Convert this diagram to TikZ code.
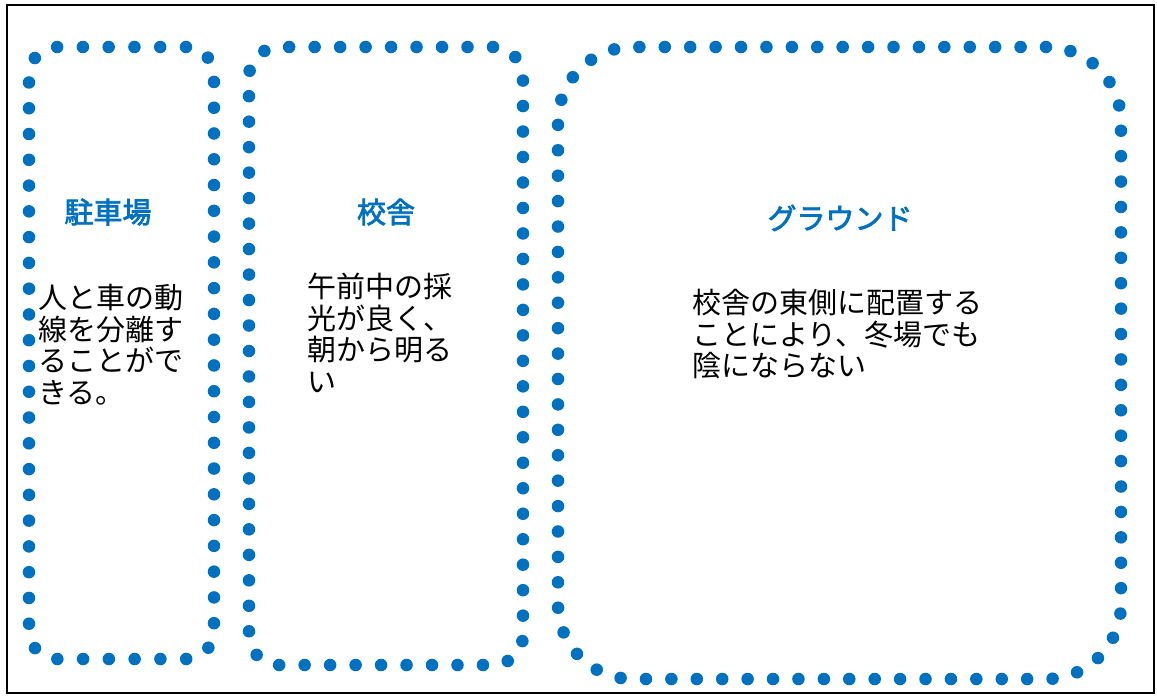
\documentclass[tikz,border=0pt]{standalone}
\usepackage{fontspec}
\newfontfamily\jp{Noto Sans CJK JP}
\newfontfamily\jpmed[FakeBold=2.5]{Noto Sans CJK JP}
\definecolor{dotblue}{HTML}{0070C0}
\begin{document}
\begin{tikzpicture}[x=0.75pt,y=-0.75pt,
  dotbox/.style={draw=dotblue, line width=9.4pt, line cap=round, dash pattern=on 0pt off #1, inner sep=0pt, outer sep=0pt},
  frame/.style={draw=black, line width=2pt, inner sep=0pt, outer sep=0pt},
  title/.style={text=dotblue, inner sep=0pt, font=\jpmed\fontsize{21.75pt}{23.6pt}\selectfont},
  body/.style={anchor=north west, align=left, inner sep=0pt, text=black, font=\jp\fontsize{21.75pt}{23.6pt}\selectfont}]
\useasboundingbox (0,0) rectangle (1157,696);
\node[frame, minimum width=860.25pt, minimum height=516pt] (border) at (580.5,349) {};
\node[dotbox={19.33pt}, rounded corners=21pt, minimum width=138.75pt, minimum height=459pt] (parking) at (121.5,353) {};
\node[dotbox={19.11pt}, rounded corners=22.5pt, minimum width=205.5pt, minimum height=463.5pt] (school) at (386,356) {};
\node[dotbox={19.06pt}, rounded corners=56.25pt, minimum width=422.25pt, minimum height=474pt] (ground) at (839.5,363) {};
\node[title] (t1) at (108,212) {駐車場};
\node[title] (t2) at (386,212) {校舎};
\node[title] (t3) at (840,218) {グラウンド};
\node[body] (b1) at (38,284) {人と車の動\\線を分離す\\ることがで\\きる。};
\node[body] (b2) at (307,273) {午前中の採\\光が良く、\\朝から明る\\い};
\node[body] (b3) at (692,289) {校舎の東側に配置する\\ことにより、冬場でも\\陰にならない};
\end{tikzpicture}
\end{document}
